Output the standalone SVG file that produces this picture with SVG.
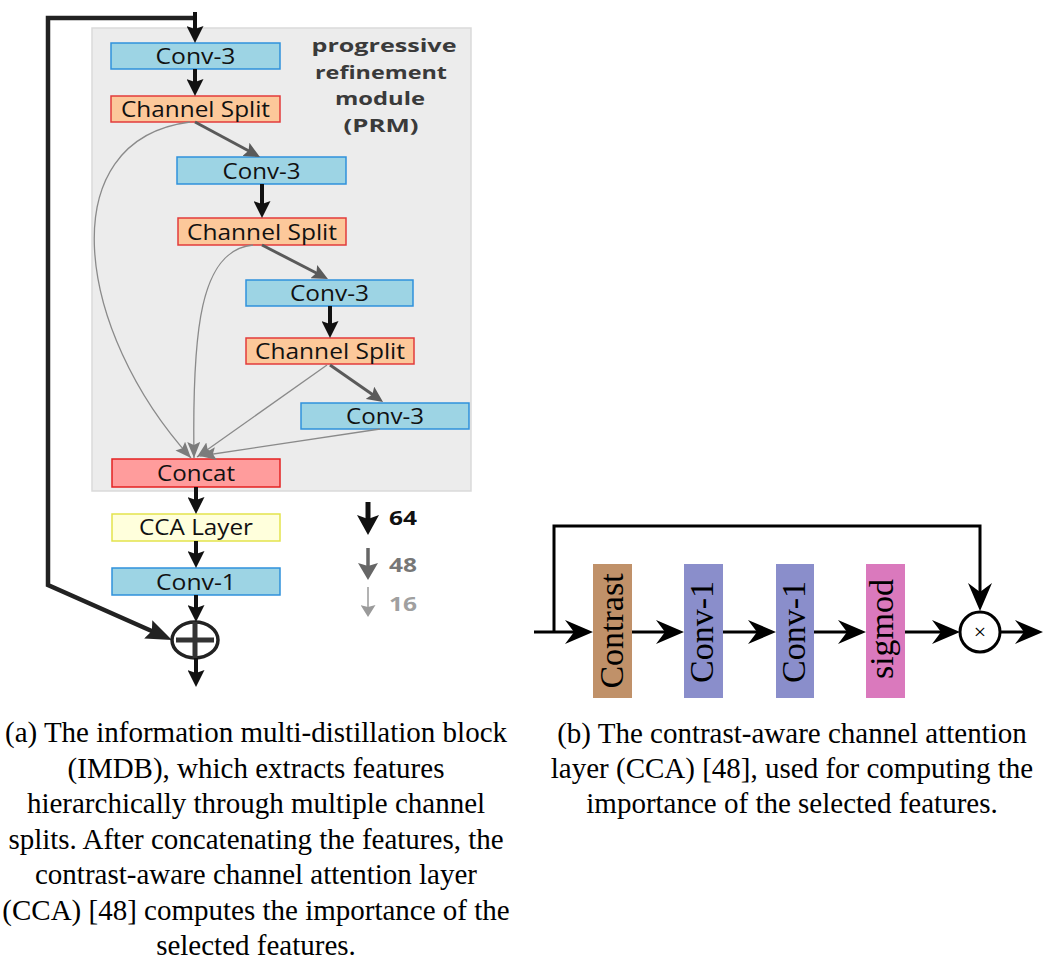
<svg xmlns="http://www.w3.org/2000/svg" width="1043" height="959" viewBox="0 0 1043 959">
  <style>
    .lbl { font-family: "Open Sans", "DejaVu Sans", sans-serif; font-size: 21.5px; fill: #111; text-anchor: middle; }
    .prm { font-family: "Open Sans", "DejaVu Sans", sans-serif; font-size: 18.5px; font-weight: bold; fill: #3a3a3a; text-anchor: middle; }
    .leg { font-family: "Open Sans", "DejaVu Sans", sans-serif; font-size: 19px; font-weight: bold; }
    .conv { fill: #9dd4e4; stroke: #2f91db; stroke-width: 1.5; }
    .split { fill: #fcc89a; stroke: #e23b3b; stroke-width: 1.5; }
    .concat { fill: #ff9c9c; stroke: #e42222; stroke-width: 1.5; }
    .cca { fill: #ffffdc; stroke: #e3e34c; stroke-width: 1.5; }
    .blk { fill: none; stroke: #111; stroke-width: 4; }
    .dark { fill: none; stroke: #5a5a5a; stroke-width: 3; }
    .thin { fill: none; stroke: #8a8a8a; stroke-width: 1.3; }
    .loop { fill: none; stroke: #222; stroke-width: 4.5; stroke-linejoin: miter; }
    .bline { fill: none; stroke: #000; stroke-width: 3; stroke-linejoin: miter; }
    .cap { font-family: "Liberation Serif", "Times New Roman", serif; font-size: 29px; fill: #000; text-anchor: middle; }
    .vt { font-family: "Liberation Serif", "Times New Roman", serif; font-size: 34px; fill: #000; text-anchor: middle; }
  </style>
  <defs>
    <marker id="arrBlk" markerUnits="userSpaceOnUse" viewBox="0 0 17 17" refX="4" refY="8.5" markerWidth="17" markerHeight="17" orient="auto">
      <path d="M0,0 L17,8.5 L0,17 L3,8.5 z" fill="#111"/>
    </marker>
    <marker id="arrDark" markerUnits="userSpaceOnUse" viewBox="0 0 16 15" refX="4" refY="7.5" markerWidth="16" markerHeight="15" orient="auto">
      <path d="M0,0 L16,7.5 L0,15 L3,7.5 z" fill="#5a5a5a"/>
    </marker>
    <marker id="arrGray" markerUnits="userSpaceOnUse" viewBox="0 0 16 13" refX="16" refY="6.5" markerWidth="16" markerHeight="13" orient="auto">
      <path d="M0,0 L16,6.5 L0,13 L3,6.5 z" fill="#7c7c7c"/>
    </marker>
    <marker id="arrSkip" markerUnits="userSpaceOnUse" viewBox="0 0 26 20" refX="5" refY="10" markerWidth="26" markerHeight="20" orient="auto">
      <path d="M0,0 L26,10 L0,20 L4,10 z" fill="#222"/>
    </marker>
    <marker id="leg64" markerUnits="userSpaceOnUse" viewBox="0 0 20 22" refX="5" refY="11" markerWidth="20" markerHeight="22" orient="auto">
      <path d="M0,0 L20,11 L0,22 L4,11 z" fill="#111"/>
    </marker>
    <marker id="leg48" markerUnits="userSpaceOnUse" viewBox="0 0 17 20" refX="4" refY="10" markerWidth="17" markerHeight="20" orient="auto">
      <path d="M0,0 L17,10 L0,20 L3,10 z" fill="#666"/>
    </marker>
    <marker id="leg16" markerUnits="userSpaceOnUse" viewBox="0 0 12 15" refX="3" refY="7.5" markerWidth="12" markerHeight="15" orient="auto">
      <path d="M0,0 L12,7.5 L0,15 L2,7.5 z" fill="#9a9a9a"/>
    </marker>
    <marker id="arrB" markerUnits="userSpaceOnUse" viewBox="0 0 28 24" refX="10" refY="12" markerWidth="28" markerHeight="24" orient="auto">
      <path d="M0,0 L28,12 L0,24 L9,12 z" fill="#000"/>
    </marker>
  </defs>

  <!-- (a) IMDB block -->
  <rect id="prm-panel" x="92" y="28" width="379" height="463" fill="#ececec" stroke="#dadada" stroke-width="1.5"/>
  <g id="prm-label">
    <text class="prm" x="384" y="52" textLength="145" lengthAdjust="spacingAndGlyphs">progressive</text>
    <text class="prm" x="381" y="78.5" textLength="132" lengthAdjust="spacingAndGlyphs">refinement</text>
    <text class="prm" x="380" y="105" textLength="90" lengthAdjust="spacingAndGlyphs">module</text>
    <text class="prm" x="381" y="131.5" textLength="75" lengthAdjust="spacingAndGlyphs">(PRM)</text>
  </g>

  <g id="conv3-1">
    <rect class="conv" x="111" y="43" width="169" height="26"/>
    <text class="lbl" x="195.5" y="63.5" textLength="80" lengthAdjust="spacingAndGlyphs">Conv-3</text>
  </g>
  <g id="split-1">
    <rect class="split" x="111" y="96" width="169" height="26"/>
    <text class="lbl" x="195.5" y="116.5" textLength="149" lengthAdjust="spacingAndGlyphs">Channel Split</text>
  </g>
  <g id="conv3-2">
    <rect class="conv" x="177" y="157" width="169" height="27"/>
    <text class="lbl" x="261.5" y="178.5" textLength="78" lengthAdjust="spacingAndGlyphs">Conv-3</text>
  </g>
  <g id="split-2">
    <rect class="split" x="178" y="218" width="168" height="27"/>
    <text class="lbl" x="262" y="239.5" textLength="150" lengthAdjust="spacingAndGlyphs">Channel Split</text>
  </g>
  <g id="conv3-3">
    <rect class="conv" x="246" y="280" width="167" height="26"/>
    <text class="lbl" x="329.5" y="300.5" textLength="79" lengthAdjust="spacingAndGlyphs">Conv-3</text>
  </g>
  <g id="split-3">
    <rect class="split" x="246" y="338" width="168" height="26"/>
    <text class="lbl" x="330" y="358.5" textLength="150" lengthAdjust="spacingAndGlyphs">Channel Split</text>
  </g>
  <g id="conv3-4">
    <rect class="conv" x="301" y="403" width="168" height="26"/>
    <text class="lbl" x="385" y="423.5" textLength="78" lengthAdjust="spacingAndGlyphs">Conv-3</text>
  </g>
  <g id="concat">
    <rect class="concat" x="112" y="459" width="168" height="28"/>
    <text class="lbl" x="196" y="480.5" textLength="78" lengthAdjust="spacingAndGlyphs">Concat</text>
  </g>
  <g id="cca-layer">
    <rect class="cca" x="112" y="514" width="168" height="27"/>
    <text class="lbl" x="196" y="534.5" textLength="114" lengthAdjust="spacingAndGlyphs">CCA Layer</text>
  </g>
  <g id="conv1">
    <rect class="conv" x="112" y="568" width="168" height="27"/>
    <text class="lbl" x="196" y="589.5" textLength="80" lengthAdjust="spacingAndGlyphs">Conv-1</text>
  </g>
  <g id="add">
    <ellipse cx="195" cy="640" rx="23" ry="18" fill="#fff" stroke="#222" stroke-width="3.5"/>
    <path d="M176,640 H214 M195,622 V658" stroke="#333" stroke-width="5" fill="none"/>
  </g>

  <g id="connectors-a">
    <!-- skip connection around the block -->
    <path class="loop" d="M195,18 H48 V585 L152.8,631.5" marker-end="url(#arrSkip)"/>
    <!-- main vertical flow -->
    <path class="blk" d="M195,12 V30" marker-end="url(#arrBlk)"/>
    <path class="blk" d="M195,69 V83" marker-end="url(#arrBlk)"/>
    <path class="blk" d="M262,184 V205" marker-end="url(#arrBlk)"/>
    <path class="blk" d="M330,306 V325" marker-end="url(#arrBlk)"/>
    <path class="blk" d="M196,487 V501" marker-end="url(#arrBlk)"/>
    <path class="blk" d="M196,541 V555" marker-end="url(#arrBlk)"/>
    <path class="blk" d="M196,595 V609" marker-end="url(#arrBlk)"/>
    <path class="blk" d="M196,658 V674" marker-end="url(#arrBlk)"/>
    <!-- refined branches -->
    <path class="dark" d="M195,122 L249.4,151.3" marker-end="url(#arrDark)"/>
    <path class="dark" d="M262,245 L317.3,273.5" marker-end="url(#arrDark)"/>
    <path class="dark" d="M330,365 L373.2,395.1" marker-end="url(#arrDark)"/>
    <!-- distilled branches into concat -->
    <path class="thin" d="M190,122 C50,140 75,330 191,458" marker-end="url(#arrGray)"/>
    <path class="thin" d="M253,245 C200,250 192,330 194,458" marker-end="url(#arrGray)"/>
    <path class="thin" d="M327,365 L197,457" marker-end="url(#arrGray)"/>
    <path class="thin" d="M380,429 L200,456" marker-end="url(#arrGray)"/>
  </g>

  <g id="legend">
    <path d="M368,502 V520" stroke="#111" stroke-width="5" fill="none" marker-end="url(#leg64)"/>
    <text class="leg" x="389" y="525" fill="#111" textLength="28" lengthAdjust="spacingAndGlyphs">64</text>
    <path d="M368,548 V567" stroke="#666" stroke-width="3.5" fill="none" marker-end="url(#leg48)"/>
    <text class="leg" x="389" y="572" fill="#777" textLength="28" lengthAdjust="spacingAndGlyphs">48</text>
    <path d="M368,587 V608" stroke="#9a9a9a" stroke-width="1.5" fill="none" marker-end="url(#leg16)"/>
    <text class="leg" x="389" y="611" fill="#a0a0a0" textLength="28" lengthAdjust="spacingAndGlyphs">16</text>
  </g>

  <!-- (b) CCA layer -->
  <g id="contrast">
    <rect x="593" y="564" width="39" height="134" fill="#c09169"/>
    <text class="vt" transform="translate(623,631) rotate(-90)">Contrast</text>
  </g>
  <g id="conv1-a">
    <rect x="684" y="564" width="39" height="134" fill="#8a8ecb"/>
    <text class="vt" transform="translate(713,632) rotate(-90)">Conv-1</text>
  </g>
  <g id="conv1-b">
    <rect x="776" y="564" width="38" height="134" fill="#8a8ecb"/>
    <text class="vt" transform="translate(805,632) rotate(-90)">Conv-1</text>
  </g>
  <g id="sigmod">
    <rect x="866" y="564" width="39" height="134" fill="#da79bd"/>
    <text class="vt" transform="translate(893,629) rotate(-90)">sigmod</text>
  </g>
  <g id="multiply">
    <circle cx="980" cy="632" r="20" fill="#fff" stroke="#000" stroke-width="3"/>
    <text x="980" y="639" font-family="Liberation Serif, serif" font-size="22" text-anchor="middle">×</text>
  </g>

  <g id="connectors-b">
    <path class="bline" d="M534,632 H575" marker-end="url(#arrB)"/>
    <path class="bline" d="M554,632 V526 H980 V593" marker-end="url(#arrB)"/>
    <path class="bline" d="M632,632 H666" marker-end="url(#arrB)"/>
    <path class="bline" d="M723,632 H758" marker-end="url(#arrB)"/>
    <path class="bline" d="M814,632 H848" marker-end="url(#arrB)"/>
    <path class="bline" d="M905,632 H942" marker-end="url(#arrB)"/>
    <path class="bline" d="M1000,632 H1025" marker-end="url(#arrB)"/>
  </g>

  <!-- captions -->
  <g id="caption-a">
    <text class="cap" x="256" y="742">(a) The information multi-distillation block</text>
    <text class="cap" x="256" y="777.5">(IMDB), which extracts features</text>
    <text class="cap" x="256" y="813">hierarchically through multiple channel</text>
    <text class="cap" x="256" y="848.5">splits.  After concatenating the features, the</text>
    <text class="cap" x="256" y="884">contrast-aware channel attention layer</text>
    <text class="cap" x="256" y="919.5">(CCA) [48] computes the importance of the</text>
    <text class="cap" x="256" y="955">selected features.</text>
  </g>
  <g id="caption-b">
    <text class="cap" x="792" y="743">(b) The contrast-aware channel attention</text>
    <text class="cap" x="792" y="778">layer (CCA) [48], used for computing the</text>
    <text class="cap" x="792" y="813">importance of the selected features.</text>
  </g>
</svg>
